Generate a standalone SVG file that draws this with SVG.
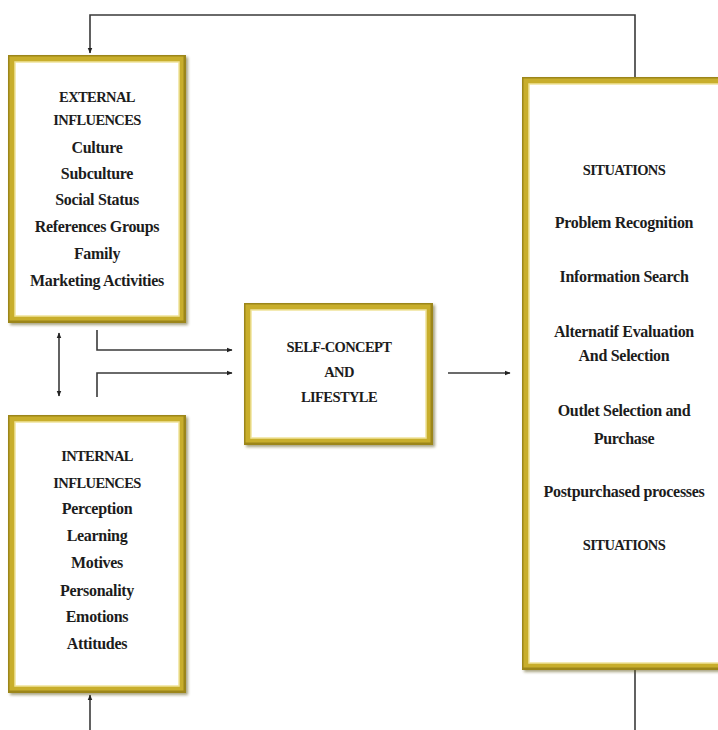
<svg xmlns="http://www.w3.org/2000/svg" width="718" height="730" viewBox="0 0 718 730">
<defs>
<style>
.outer{fill:#9c861a}
.mid{fill:#c8ae2c}
.inner{fill:#ffffff;stroke:#efe39a;stroke-width:1.5}
.shadow{fill:#5e5418;opacity:0.55}
.t{font-family:"Liberation Serif","Times New Roman",serif;font-weight:bold;font-size:16px;fill:#1c1c1c;text-anchor:middle;letter-spacing:-0.3px}
.c{font-size:14.5px;letter-spacing:-0.6px}
.ln{fill:none;stroke:#3a3a3a;stroke-width:1.6}
</style>
<filter id="blur" x="-10%" y="-10%" width="120%" height="120%"><feGaussianBlur stdDeviation="1.5"/></filter>
<marker id="ah" viewBox="0 0 10 10" refX="9" refY="5" markerWidth="6" markerHeight="6" orient="auto-start-reverse" markerUnits="userSpaceOnUse">
<path d="M0,1 L10,5 L0,9 z" fill="#222"/>
</marker>
</defs>
<rect width="718" height="730" fill="#ffffff"/>

<g id="connectors">
<path class="ln" d="M635,77 V15 H90 V53" marker-end="url(#ah)"/>
<path class="ln" d="M59,333 V396" marker-start="url(#ah)" marker-end="url(#ah)"/>
<path class="ln" d="M97,330 V350 H232" marker-end="url(#ah)"/>
<path class="ln" d="M97,397 V373 H232" marker-end="url(#ah)"/>
<path class="ln" d="M448,373 H510" marker-end="url(#ah)"/>
<path class="ln" d="M635,670 V730"/>
<path class="ln" d="M90,730 V695" marker-end="url(#ah)"/>
</g>

<g id="external">
<rect class="shadow" x="10" y="57" width="178" height="268" filter="url(#blur)"/>
<rect class="outer" x="8" y="55" width="178" height="268"/>
<rect class="mid" x="9.5" y="56.5" width="174" height="264"/>
<rect class="inner" x="15" y="62" width="164" height="254"/>
<text class="t c" x="97" y="102">EXTERNAL</text>
<text class="t c" x="97" y="125">INFLUENCES</text>
<text class="t" x="97" y="153">Culture</text>
<text class="t" x="97" y="179">Subculture</text>
<text class="t" x="97" y="205">Social Status</text>
<text class="t" x="97" y="232">References Groups</text>
<text class="t" x="97" y="259">Family</text>
<text class="t" x="97" y="286">Marketing Activities</text>
</g>

<g id="internal">
<rect class="shadow" x="10" y="417" width="178" height="278" filter="url(#blur)"/>
<rect class="outer" x="8" y="415" width="178" height="278"/>
<rect class="mid" x="9.5" y="416.5" width="174" height="274"/>
<rect class="inner" x="15" y="422" width="164" height="264"/>
<text class="t c" x="97" y="461">INTERNAL</text>
<text class="t c" x="97" y="488">INFLUENCES</text>
<text class="t" x="97" y="514">Perception</text>
<text class="t" x="97" y="541">Learning</text>
<text class="t" x="97" y="568">Motives</text>
<text class="t" x="97" y="596">Personality</text>
<text class="t" x="97" y="622">Emotions</text>
<text class="t" x="97" y="649">Attitudes</text>
</g>

<g id="selfconcept">
<rect class="shadow" x="246" y="305" width="189" height="142" filter="url(#blur)"/>
<rect class="outer" x="244" y="303" width="189" height="142"/>
<rect class="mid" x="245.5" y="304.5" width="185" height="138"/>
<rect class="inner" x="251" y="310" width="175" height="128"/>
<text class="t c" x="339" y="352">SELF-CONCEPT</text>
<text class="t c" x="339" y="377">AND</text>
<text class="t c" x="339" y="402">LIFESTYLE</text>
</g>

<g id="situations">
<rect class="shadow" x="524" y="79" width="210" height="593" filter="url(#blur)"/>
<rect class="outer" x="522" y="77" width="210" height="593"/>
<rect class="mid" x="523.5" y="78.5" width="206" height="589"/>
<rect class="inner" x="529" y="84" width="196" height="579"/>
<text class="t c" x="624" y="175">SITUATIONS</text>
<text class="t" x="624" y="228">Problem Recognition</text>
<text class="t" x="624" y="282">Information  Search</text>
<text class="t" x="624" y="337">Alternatif Evaluation</text>
<text class="t" x="624" y="361">And Selection</text>
<text class="t" x="624" y="416">Outlet Selection and</text>
<text class="t" x="624" y="444">Purchase</text>
<text class="t" x="624" y="497">Postpurchased processes</text>
<text class="t c" x="624" y="550">SITUATIONS</text>
</g>
</svg>
